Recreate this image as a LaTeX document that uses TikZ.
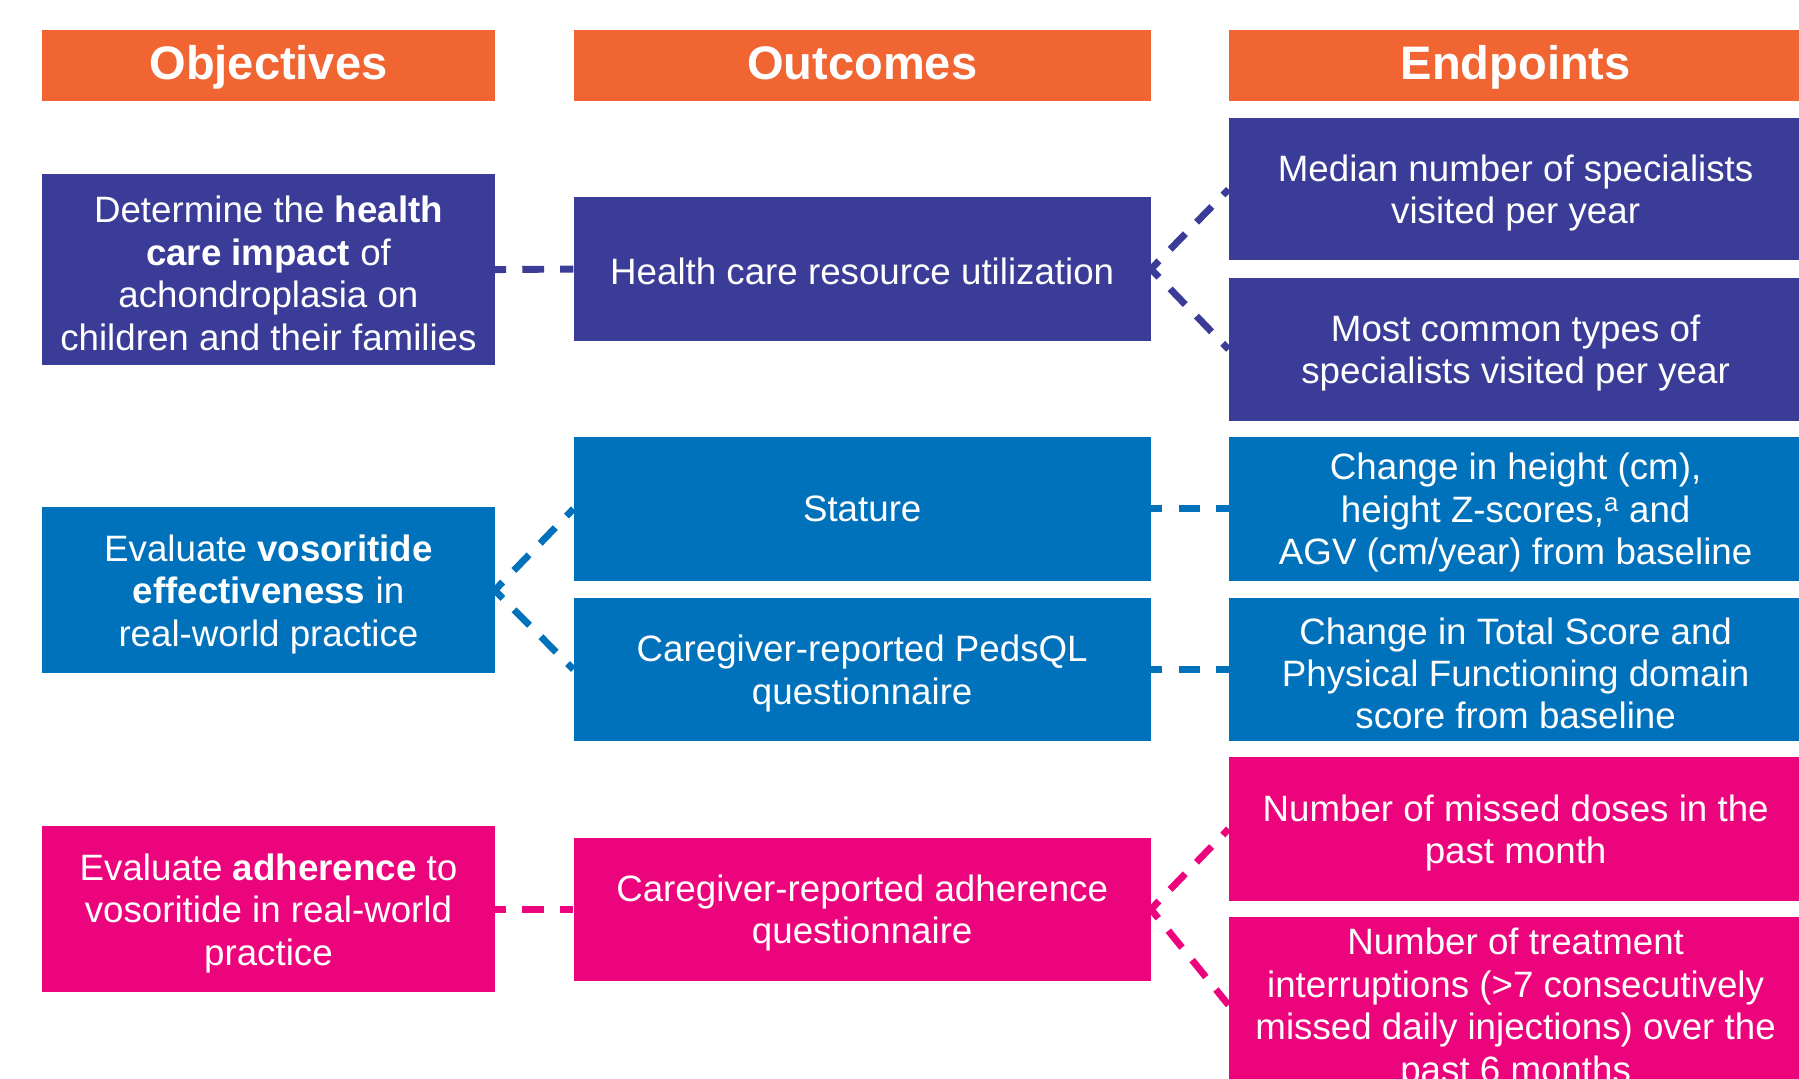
\documentclass[tikz,border=0pt]{standalone}
\usepackage{fontspec}
\setmainfont{Liberation Sans}
\definecolor{hdrc}{HTML}{F16533}
\definecolor{navyc}{HTML}{3A3C98}
\definecolor{bluec}{HTML}{0072BC}
\definecolor{pinkc}{HTML}{EC047D}
\newcommand\tstrut{\rule{0pt}{30pt}}
\begin{document}
\begin{tikzpicture}[x=1pt,y=-1pt,
  box/.style={rectangle, inner sep=0pt, text=white, align=center, font=\fontsize{32}{37}\selectfont},
  hdrbox/.style={box, fill=hdrc, minimum height=62pt, text height=31pt, text depth=7.6pt, font=\fontsize{41}{48}\selectfont\bfseries},
  lbox/.style={box, minimum width=394pt},
  mbox/.style={box, minimum width=503pt, minimum height=125pt},
  rbox/.style={box, minimum width=500pt, minimum height=125pt},
  conn/.style={line width=6pt, dash pattern=on 19pt off 14pt, dash phase=9pt}]
\useasboundingbox (0,0) rectangle (1568,940);
\clip (0,0) rectangle (1568,940);
\fill[white] (0,0) rectangle (1568,940);

% headers
\node[hdrbox, minimum width=394pt] (h1) at (234,57.3) {Objectives};
\node[hdrbox, minimum width=503pt] (h2) at (751.5,57.3) {Outcomes};
\node[hdrbox, minimum width=500pt] (h3) at (1321,57.3) {Endpoints};

% objectives
\node[lbox, fill=navyc, minimum height=166pt] (o1) at (234,235)
  {\tstrut Determine the \textbf{health}\\\textbf{care impact} of\\achondroplasia on\\children and their families};
\node[lbox, fill=bluec, minimum height=145pt] (o2) at (234,514.5)
  {\tstrut Evaluate \textbf{vosoritide}\\\textbf{effectiveness} in\\real-world practice};
\node[lbox, fill=pinkc, minimum height=145pt] (o3) at (234,792.5)
  {\tstrut Evaluate \textbf{adherence} to\\vosoritide in real-world\\practice};

% outcomes
\node[mbox, fill=navyc] (m1) at (751.5,234.5) {\rule{0pt}{27pt}Health care resource utilization};
\node[mbox, fill=bluec] (m2) at (751.5,443.5) {Stature};
\node[mbox, fill=bluec] (m3) at (751.5,583.5) {\tstrut Caregiver-reported PedsQL\\questionnaire};
\node[mbox, fill=pinkc] (m4) at (751.5,792.5) {\tstrut Caregiver-reported adherence\\questionnaire};

% endpoints
\node[rbox, fill=navyc, minimum height=124pt] (e1) at (1321,165)
  {\tstrut Median number of specialists\\visited per year};
\node[rbox, fill=navyc] (e2) at (1321,304.5)
  {\tstrut Most common types of\\specialists visited per year};
\node[rbox, fill=bluec] (e3) at (1321,443.5)
  {\tstrut Change in height (cm),\\height Z-scores,\textsuperscript{a} and\\AGV (cm/year) from baseline};
\node[rbox, fill=bluec] (e4) at (1321,583.5)
  {\tstrut Change in Total Score and\\Physical Functioning domain\\score from baseline};
\node[rbox, fill=pinkc] (e5) at (1321,722.5)
  {\tstrut Number of missed doses in the\\past month};
\node[rbox, fill=pinkc, minimum height=154pt] (e6) at (1321,876)
  {\tstrut Number of treatment\\interruptions (>7 consecutively\\missed daily injections) over the\\past 6 months};

% connectors
\draw[conn, navyc] (o1.east) -- (m1.west);
\draw[conn, navyc] (m1.east) -- (e1.west);
\draw[conn, navyc] (m1.east) -- (e2.west);
\draw[conn, bluec] (o2.east) -- (m2.west);
\draw[conn, bluec] (o2.east) -- (m3.west);
\draw[conn, bluec] (m2.east) -- (e3.west);
\draw[conn, bluec] (m3.east) -- (e4.west);
\draw[conn, pinkc] (o3.east) -- (m4.west);
\draw[conn, pinkc] (m4.east) -- (e5.west);
\draw[conn, pinkc] (m4.east) -- (e6.west);
\end{tikzpicture}
\end{document}
